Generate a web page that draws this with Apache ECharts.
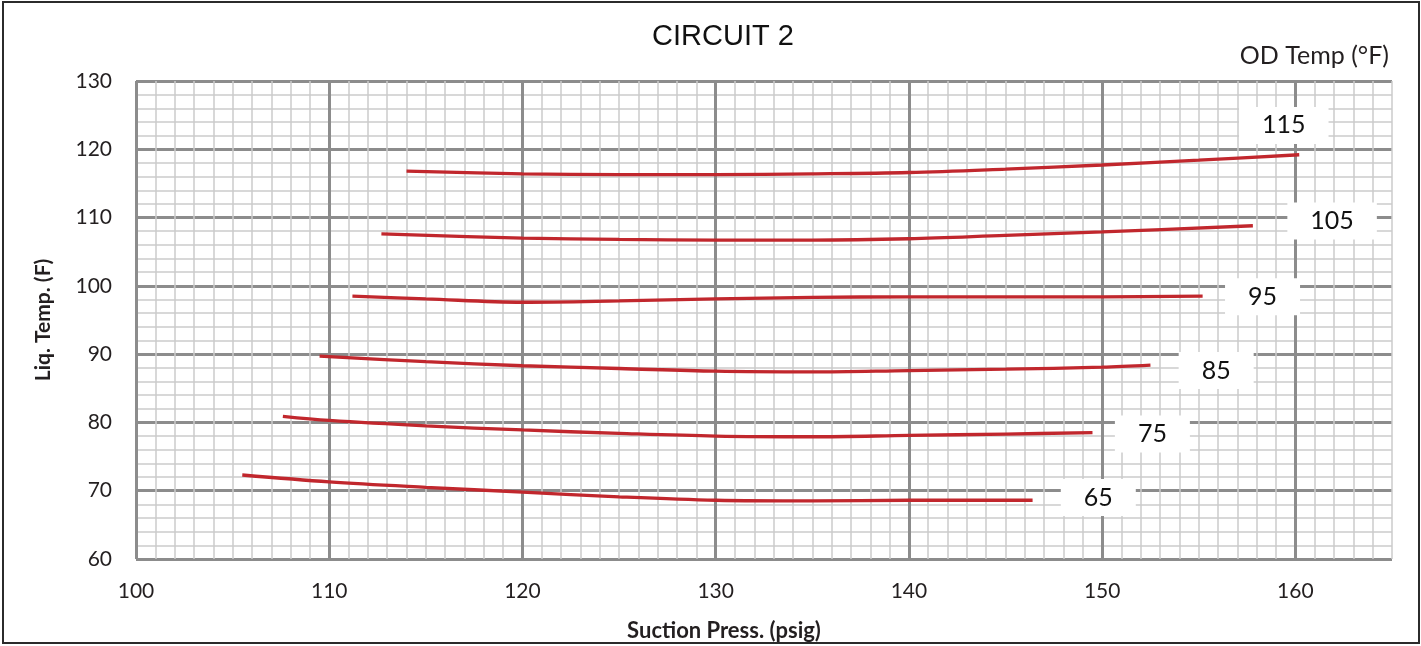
<!DOCTYPE html>
<html><head><meta charset="utf-8">
<script src="https://cdn.jsdelivr.net/npm/echarts@6/dist/echarts.min.js"></script>
<style>html,body{margin:0;padding:0;background:#fff}#c{width:1421px;height:646px}</style>
</head><body><div id="c"></div>
<script>
// ---- data ----
const odTemps = ['65', '75', '85', '95', '105', '115'];
const curve65  = [[105.5,72.3],[110,71.3],[115,70.5],[120,69.8],[125,69.1],[130,68.6],[135,68.5],[140,68.6],[146.4,68.6]];
const curve75  = [[107.6,80.9],[110,80.3],[115,79.5],[120,78.9],[125,78.4],[130,78.0],[135,77.9],[140,78.1],[145,78.3],[149.5,78.5]];
const curve85  = [[109.5,89.7],[115,88.9],[120,88.3],[125,87.9],[130,87.5],[135,87.4],[140,87.6],[145,87.8],[150,88.1],[152.5,88.4]];
const curve95  = [[111.2,98.5],[115,98.1],[120,97.6],[125,97.8],[130,98.1],[135,98.3],[140,98.4],[150,98.4],[155.2,98.5]];
const curve105 = [[112.7,107.6],[120,107.0],[125,106.8],[130,106.7],[135,106.7],[140,106.9],[145,107.4],[150,107.9],[157.8,108.8]];
const curve115 = [[114.0,116.8],[120,116.4],[125,116.3],[130,116.3],[135,116.4],[140,116.6],[145,117.1],[150,117.7],[155,118.4],[160.2,119.2]];
const labelAt  = [[149.8,69.0],[152.6,78.3],[155.9,87.6],[158.3,98.4],[161.9,109.5],[159.4,123.5]];
const xRange = [100, 165];
const yRange = [60, 130];

const curves = [curve65, curve75, curve85, curve95, curve105, curve115];
const RED = '#c1272d';
const MAJOR = '#8c8c8c';
const MINOR = '#cbcbcb';
const FONT = 'Lato, "Open Sans", sans-serif';

const chart = echarts.init(document.getElementById('c'), null, {renderer: 'canvas'});

const series = curves.map((d, i) => ({
  name: odTemps[i], type: 'line', xAxisIndex: 1, yAxisIndex: 1,
  data: d, smooth: 0.35, showSymbol: false, symbol: 'none',
  lineStyle: {color: RED, width: 3.3}, z: 3, silent: true
}));
series.push({
  type: 'scatter', xAxisIndex: 1, yAxisIndex: 1, symbolSize: 1,
  itemStyle: {color: '#ffffff', opacity: 1}, z: 5, silent: true,
  emphasis: {disabled: true},
  data: labelAt.map((p, i) => ({value: p, name: odTemps[i]})),
  labelLayout: {hideOverlap: false},
  label: {
    show: true, position: 'inside', formatter: p => p.name, opacity: 1,
    backgroundColor: '#ffffff', padding: [6, 23], color: '#111111',
    fontFamily: FONT, fontSize: 25, textBorderWidth: 0
  }
});

chart.setOption({
  animation: false,
  backgroundColor: '#fff',
  grid: {left: 136, right: 29, top: 81, bottom: 87, show: false, containLabel: false, outerBoundsMode: 'none'},
  xAxis: [
    {type: 'value', min: xRange[0], max: xRange[1], interval: 1, position: 'bottom',
     axisLine: {show: false}, axisTick: {show: false}, axisLabel: {show: false},
     splitLine: {show: true, lineStyle: {color: MINOR, width: 1.5}}},
    {type: 'value', min: xRange[0], max: xRange[1], interval: 10, position: 'bottom',
     axisLine: {show: false}, axisTick: {show: false},
     axisLabel: {fontFamily: FONT, fontSize: 21, color: '#231f20', margin: 22,
                 formatter: v => (v % 10 === 0 ? String(v) : '')},
     splitLine: {show: true, showMaxLine: false, lineStyle: {color: MAJOR, width: 3}}}
  ],
  yAxis: [
    {type: 'value', min: yRange[0], max: yRange[1], interval: 2, position: 'left',
     axisLine: {show: false}, axisTick: {show: false}, axisLabel: {show: false},
     splitLine: {show: true, lineStyle: {color: MINOR, width: 1.5}}},
    {type: 'value', min: yRange[0], max: yRange[1], interval: 10, position: 'left',
     axisLine: {show: false}, axisTick: {show: false},
     axisLabel: {fontFamily: FONT, fontSize: 21, color: '#231f20', margin: 24},
     splitLine: {show: true, lineStyle: {color: MAJOR, width: 3}}}
  ],
  series: series,
  graphic: [
    {type: 'rect', shape: {x: 3, y: 2, width: 1416, height: 641}, silent: true,
     style: {fill: 'none', stroke: '#2b2b2b', lineWidth: 2}, z: 100},
    {type: 'text', x: 723, y: 37, silent: true,
     style: {text: 'CIRCUIT 2', font: '29px "Liberation Sans", Arial, sans-serif', fill: '#111',
             align: 'center', verticalAlign: 'middle'}},
    {type: 'text', x: 1389, y: 56, silent: true,
     style: {text: 'OD Temp (°F)', font: '25px ' + FONT, fill: '#231f20',
             align: 'right', verticalAlign: 'middle'}},
    {type: 'text', x: 724, y: 631, silent: true,
     style: {text: 'Suction Press. (psig)', font: 'bold 22px ' + FONT, fill: '#231f20',
             align: 'center', verticalAlign: 'middle'}},
    {type: 'text', x: 43, y: 320, rotation: Math.PI / 2, silent: true,
     style: {text: 'Liq. Temp. (F)', font: 'bold 21px ' + FONT, fill: '#231f20',
             align: 'center', verticalAlign: 'middle'}}
  ]
});
</script></body></html>
